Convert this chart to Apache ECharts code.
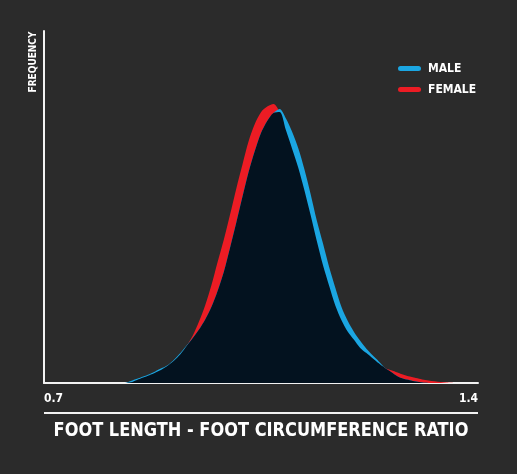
<!DOCTYPE html>
<html>
<head>
<meta charset="utf-8">
<script src="https://cdn.jsdelivr.net/npm/echarts@6/dist/echarts.min.js"></script>
<style>
html,body{margin:0;padding:0;background:#2b2b2b;}
#chart{width:517px;height:474px;}
</style>
</head>
<body>
<div id="chart"></div>
<script>
const ratio = [0.82,0.83,0.84,0.85,0.86,0.87,0.88,0.89,0.90,0.91,0.92,0.93,0.94,0.95,0.96,0.97,0.98,0.99,
  1.00,1.01,1.02,1.03,1.04,1.05,1.06,1.07,1.08,1.09,1.10,1.11,1.12,1.13,1.14,1.15,1.16,1.17,1.18,1.19,
  1.20,1.21,1.22,1.23,1.24,1.25,1.26,1.27,1.28,1.29,1.30,1.31,1.32,1.33,1.34,1.35,1.36];
const male = [0,0,2.1,4.3,6.6,8.8,11.8,14.9,18,23.5,30.1,37.5,45,53.5,63.5,76,92,111,
  135,160,186,211,232,250,262,270,274,264.7,251.6,235.1,213.8,189.1,162.5,139.4,115.7,95,75.7,61.9,
  51,42.2,34.2,27.7,21.6,15,10.9,6.7,4.2,2.8,1.4,0.4,0,0,0,0,0];
const female = [0,0,0.7,3.1,5.5,7.8,10.5,13.5,17.5,22.5,28.8,37,47.5,61.5,77.8,97.7,121,143.3,
  168.2,194.1,218.2,241.7,259,270.8,276.4,279,271,253.2,234.6,215.6,192.7,167.9,141.9,117.7,97,77.3,62.6,51.3,
  43.2,35.1,30,24.8,19.7,15,12.7,10.5,8.2,6.4,5,3.6,2.6,1.8,1,0.4,0];
const xTicks = [0.7, 1.4];
const seriesNames = ['MALE', 'FEMALE'];
const xTitle = 'FOOT LENGTH - FOOT CIRCUMFERENCE RATIO';
const yTitle = 'FREQUENCY';

const colMale = '#1ba6e2', colFemale = '#ec1c24', colOverlap = '#03121f';
const FONT = "'DejaVu Sans Condensed','DejaVu Sans',sans-serif";

const pairs = arr => ratio.map((x, i) => [x, arr[i]]);
const overlap = ratio.map((x, i) => [x, Math.min(male[i], female[i])]);

const chart = echarts.init(document.getElementById('chart'));
const base = {
  type: 'line', smooth: 0.3, showSymbol: false, symbol: 'none',
  lineStyle: { width: 0 }, emphasis: { disabled: true }, silent: true
};
chart.setOption({
  backgroundColor: '#2b2b2b',
  animation: false,
  grid: { left: 44, right: 39, top: 31, bottom: 91 },
  legend: {
    data: seriesNames, orient: 'vertical', left: 398, top: 61.5, padding: 0,
    itemWidth: 23, itemHeight: 5, itemGap: 7,
    icon: 'path://M2.5,0 L20.5,0 A2.5,2.5 0 0 1 20.5,5 L2.5,5 A2.5,2.5 0 0 1 2.5,0 Z',
    textStyle: { color: '#ffffff', fontWeight: 'bold', fontSize: 12, lineHeight: 14, fontFamily: FONT, padding: [0, 0, 0, 2] }
  },
  xAxis: {
    type: 'value', min: xTicks[0], max: xTicks[1], interval: xTicks[1] - xTicks[0],
    axisLine: { show: true, lineStyle: { color: '#f2f2f2', width: 2 } },
    axisTick: { show: false }, splitLine: { show: false },
    axisLabel: {
      color: '#ffffff', fontWeight: 'bold', fontSize: 12, fontFamily: FONT, margin: 10,
      alignMinLabel: 'left', alignMaxLabel: 'right',
      formatter: v => v.toFixed(1)
    }
  },
  yAxis: {
    type: 'value', min: 0, max: 352,
    axisLine: { show: true, lineStyle: { color: '#f2f2f2', width: 2 } },
    axisTick: { show: false }, axisLabel: { show: false }, splitLine: { show: false }
  },
  graphic: [
    { type: 'line', shape: { x1: 44, y1: 413, x2: 478, y2: 413 }, style: { stroke: '#f2f2f2', lineWidth: 2 } },
    { type: 'text', x: 261, y: 431, scaleX: 0.9, style: { text: xTitle, fill: '#ffffff', font: 'bold 20px ' + FONT, align: 'center', verticalAlign: 'middle' } },
    { type: 'text', x: 33, y: 62, rotation: Math.PI / 2, style: { text: yTitle, fill: '#ffffff', font: 'bold 10px ' + FONT, align: 'center', verticalAlign: 'middle' } }
  ],
  series: [
    Object.assign({}, base, { name: 'FEMALE', data: pairs(female), color: colFemale, areaStyle: { color: colFemale, opacity: 1 }, z: 1 }),
    Object.assign({}, base, { name: 'MALE', data: pairs(male), color: colMale, areaStyle: { color: colMale, opacity: 1 }, z: 2 }),
    Object.assign({}, base, { name: 'overlap', data: overlap, color: colOverlap, areaStyle: { color: colOverlap, opacity: 1 }, z: 3 })
  ]
});
</script>
</body>
</html>
